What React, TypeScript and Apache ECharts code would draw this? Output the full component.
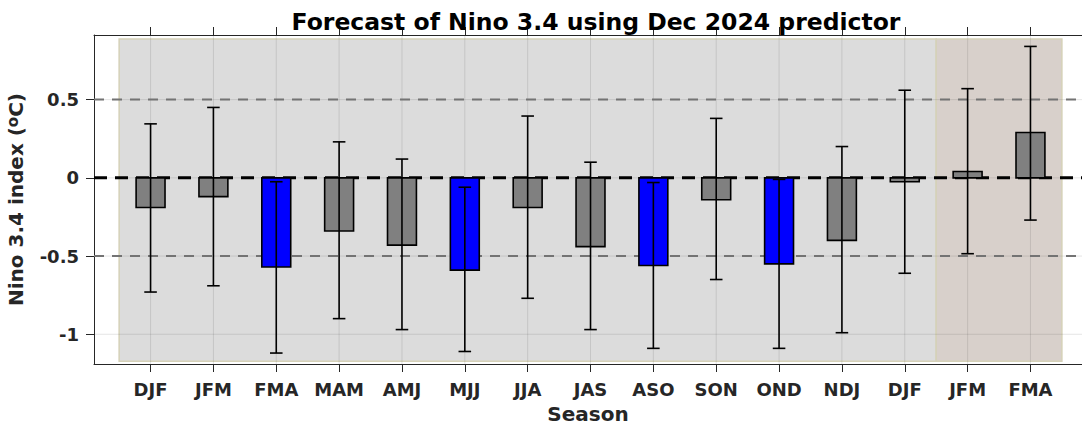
import React, { useEffect, useRef } from "react";
import * as echarts from "echarts";

const seasons = ["DJF", "JFM", "FMA", "MAM", "AMJ", "MJJ", "JJA", "JAS", "ASO", "SON", "OND", "NDJ", "DJF", "JFM", "FMA"];
const values = [-0.19, -0.12, -0.57, -0.34, -0.43, -0.59, -0.19, -0.44, -0.56, -0.14, -0.55, -0.4, -0.025, 0.04, 0.29];
const errUpper = [0.345, 0.45, -0.025, 0.23, 0.12, -0.06, 0.395, 0.1, -0.03, 0.38, -0.01, 0.2, 0.56, 0.57, 0.84];
const errLower = [-0.73, -0.69, -1.12, -0.9, -0.97, -1.11, -0.77, -0.97, -1.09, -0.65, -1.09, -0.99, -0.61, -0.485, -0.27];
const coolSeasons = [2, 5, 8, 10];
const yTicks = [-1, -0.5, 0, 0.5];
const refLines = [0.5, 0, -0.5];
// shaded periods: [from, to, yBottom, yTop, colour]
const periods: [number, number, number, number, string][] = [
  [-0.5, 12.5, -1.173, 0.888, "#dcdcdc"],
  [12.5, 14.5, -1.173, 0.888, "#d8d0cb"],
];

const X_MIN = -0.9;
const X_MAX = 14.82;
const Y_MIN = -1.19;
const Y_MAX = 0.913;
const FONT = "DejaVu Sans";
const AXIS_COLOR = "#262626";

export default function App() {
  const ref = useRef<HTMLDivElement>(null);
  useEffect(() => {
    if (!ref.current) return;
    const chart = echarts.init(ref.current, null, { renderer: "svg" });
    const idx = seasons.map((_, i) => i);

    const option: any = {
      animation: false,
      backgroundColor: "#ffffff",
      title: {
        text: "Forecast of Nino 3.4 using Dec 2024 predictor",
        left: 591,
        textAlign: "center",
        top: 5,
        textStyle: { fontFamily: FONT, fontSize: 23.5, fontWeight: "bold", color: "#000" },
      },
      grid: { left: 94, top: 35, width: 988, height: 329, outerBoundsMode: "none", containLabel: false },
      xAxis: [
        {
          type: "value",
          min: X_MIN,
          max: X_MAX,
          position: "bottom",
          axisLine: { show: true, onZero: false, lineStyle: { color: AXIS_COLOR, width: 1 } },
          axisTick: { show: true, customValues: idx, length: 8, lineStyle: { color: AXIS_COLOR } },
          axisLabel: {
            show: true,
            customValues: idx,
            formatter: (v: number) => seasons[Math.round(v)],
            fontFamily: FONT,
            fontSize: 18,
            fontWeight: "bold",
            color: AXIS_COLOR,
            margin: 16,
          },
          splitLine: { show: false },
          name: "Season",
          nameLocation: "middle",
          nameGap: 40,
          nameTextStyle: { fontFamily: FONT, fontSize: 20, fontWeight: "bold", color: AXIS_COLOR },
        },
        {
          type: "value",
          min: X_MIN,
          max: X_MAX,
          position: "top",
          axisLine: { show: true, onZero: false, lineStyle: { color: AXIS_COLOR, width: 1 } },
          axisTick: { show: true, customValues: idx, length: 8, lineStyle: { color: AXIS_COLOR } },
          axisLabel: { show: false },
          splitLine: { show: false },
        },
      ],
      yAxis: {
        type: "value",
        min: Y_MIN,
        max: Y_MAX,
        axisLine: { show: true, onZero: false, lineStyle: { color: AXIS_COLOR, width: 1 } },
        axisTick: { show: true, customValues: yTicks, length: 8, lineStyle: { color: AXIS_COLOR } },
        axisLabel: {
          show: true,
          customValues: yTicks,
          formatter: (v: number) => String(v),
          fontFamily: FONT,
          fontSize: 18,
          fontWeight: "bold",
          color: AXIS_COLOR,
          margin: 15,
        },
        splitLine: { show: false },
        name: "Nino 3.4 index ({sup|o}C)",
        nameLocation: "middle",
        nameRotate: 90,
        nameGap: 58,
        nameTextStyle: {
          fontFamily: FONT,
          fontSize: 20,
          fontWeight: "bold",
          color: AXIS_COLOR,
          rich: {
            sup: {
              fontFamily: FONT,
              fontSize: 15,
              fontWeight: "bold",
              color: AXIS_COLOR,
              verticalAlign: "top",
              lineHeight: 15,
              padding: [0, 0, 8, 0],
            },
          },
        },
      },
      series: [
        {
          type: "custom",
          name: "periods",
          z: 1,
          data: periods.map((p) => [p[0], p[1], p[2], p[3]]),
          renderItem: (params: any, api: any) => {
            const p = periods[params.dataIndex];
            const a = api.coord([api.value(0), api.value(3)]);
            const b = api.coord([api.value(1), api.value(2)]);
            return {
              type: "rect",
              shape: { x: a[0], y: a[1], width: b[0] - a[0], height: b[1] - a[1] },
              style: { fill: p[4], stroke: "#d5d1b8", lineWidth: 1.5 },
            };
          },
        },
        {
          type: "custom",
          name: "gridlines",
          z: 2,
          data: idx.map((i) => [i]),
          renderItem: (params: any, api: any) => {
            const i = api.value(0);
            const top = api.coord([i, Y_MAX]);
            const bot = api.coord([i, Y_MIN]);
            const children: any[] = [
              {
                type: "line",
                shape: { x1: top[0], y1: top[1], x2: bot[0], y2: bot[1] },
                style: { stroke: "rgba(38,38,38,0.12)", lineWidth: 1 },
              },
            ];
            if (params.dataIndex < yTicks.length) {
              const y = yTicks[params.dataIndex];
              const l = api.coord([X_MIN, y]);
              const r = api.coord([X_MAX, y]);
              children.push({
                type: "line",
                shape: { x1: l[0], y1: l[1], x2: r[0], y2: r[1] },
                style: { stroke: "rgba(38,38,38,0.12)", lineWidth: 1 },
              });
            }
            return { type: "group", children };
          },
        },
        {
          type: "custom",
          name: "refs",
          z: 3,
          data: refLines.map((y) => [y]),
          renderItem: (params: any, api: any) => {
            const y = api.value(0);
            const l = api.coord([X_MIN, y]);
            const r = api.coord([X_MAX, y]);
            const zero = y === 0;
            return {
              type: "line",
              shape: { x1: l[0], y1: l[1], x2: r[0], y2: r[1] },
              style: {
                stroke: zero ? "#000000" : "#737373",
                lineWidth: zero ? 3 : 2,
                lineDash: zero ? [13, 8] : [10, 8],
              },
            };
          },
        },
        {
          type: "custom",
          name: "forecast",
          z: 4,
          data: values.map((v, i) => ({
            value: [i, v, errLower[i], errUpper[i]],
            itemStyle: { color: coolSeasons.includes(i) ? "#0000ff" : "#808080" },
          })),
          renderItem: (params: any, api: any) => {
            const i = api.value(0);
            const v = api.value(1);
            const lo = api.value(2);
            const hi = api.value(3);
            const p0 = api.coord([i, 0]);
            const p1 = api.coord([i, v]);
            const pl = api.coord([i, lo]);
            const ph = api.coord([i, hi]);
            const w = api.size([0.46, 0])[0];
            const cw = api.size([0.2, 0])[0];
            return {
              type: "group",
              children: [
                {
                  type: "rect",
                  shape: { x: p0[0] - w / 2, y: Math.min(p0[1], p1[1]), width: w, height: Math.abs(p1[1] - p0[1]) },
                  style: { fill: api.visual("color"), stroke: "#000", lineWidth: 1.6 },
                },
                {
                  type: "line",
                  shape: { x1: pl[0], y1: pl[1], x2: ph[0], y2: ph[1] },
                  style: { stroke: "#000", lineWidth: 1.6 },
                },
                {
                  type: "line",
                  shape: { x1: pl[0] - cw / 2, y1: pl[1], x2: pl[0] + cw / 2, y2: pl[1] },
                  style: { stroke: "#000", lineWidth: 1.6 },
                },
                {
                  type: "line",
                  shape: { x1: ph[0] - cw / 2, y1: ph[1], x2: ph[0] + cw / 2, y2: ph[1] },
                  style: { stroke: "#000", lineWidth: 1.6 },
                },
              ],
            };
          },
        },
      ],
    };
    chart.setOption(option);
    return () => chart.dispose();
  }, []);
  return <div ref={ref} style={{ width: 1082, height: 425, position: "absolute", left: 0, top: 0 }} />;
}
